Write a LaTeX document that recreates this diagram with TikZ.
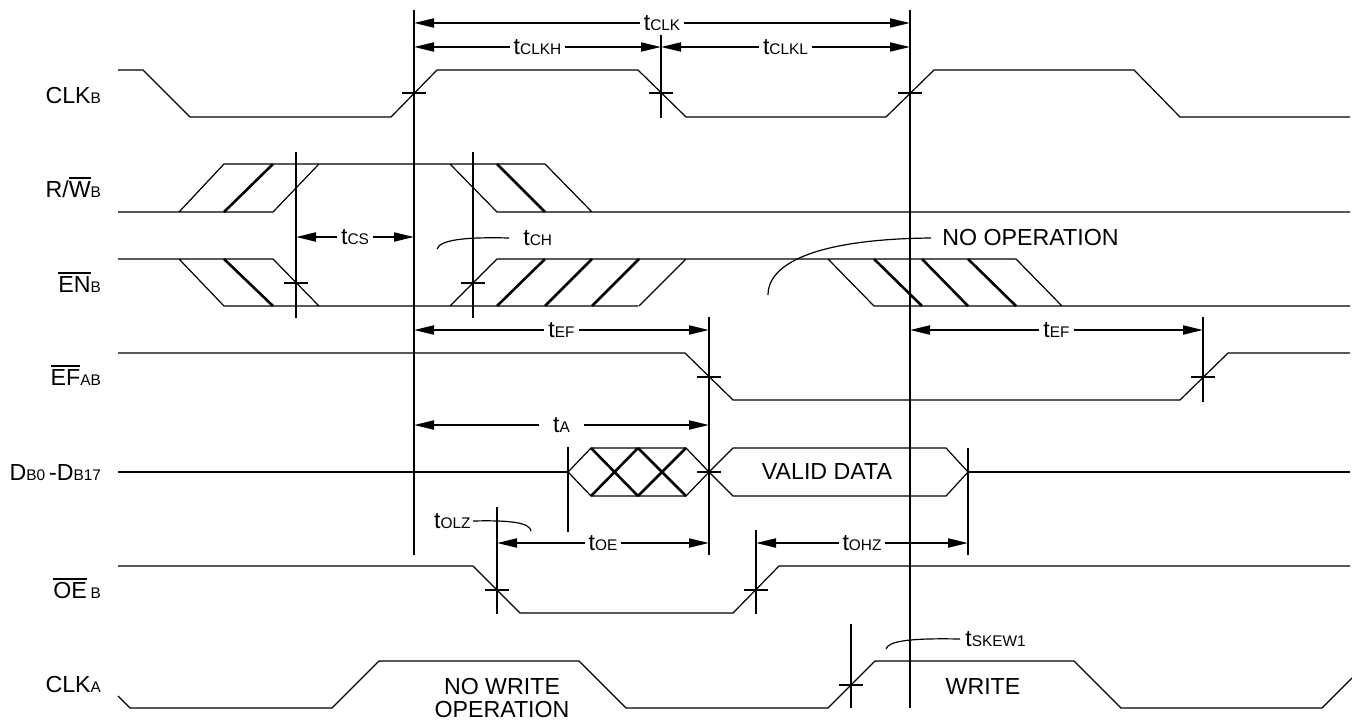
\documentclass[tikz,border=0pt]{standalone}
\usepackage{fontspec}
\setmainfont{Liberation Sans}
\usetikzlibrary{arrows.meta}
\newcommand{\lo}[1]{{\fontsize{7.7}{8}\selectfont #1}}
\newcommand{\ovl}[1]{\leavevmode\vbox{\hrule height 1pt\kern 1pt\hbox{#1}}}
\begin{document}
\begin{tikzpicture}[x=0.5pt,y=-0.5pt,>={Triangle[length=10pt,width=4.5pt]},line join=round,
	font=\fontsize{11.6}{11.5}\selectfont,
	sig/.style={line width=0.6pt},
	hatch/.style={line width=1.3pt},
	bus/.style={line width=1.2pt},
	vline/.style={line width=1pt},
	dim/.style={<->,line width=1pt},
	tlab/.style={fill=white,inner xsep=2pt,inner ysep=1pt}]
	\useasboundingbox (0,0) rectangle (1352,723);
	% signal names
	\node[anchor=base east] (clkb) at (108,103) {CLK\lo{B}};
	\node[anchor=base east] (rwb) at (108,197) {R/\ovl{W}\lo{B}};
	\node[anchor=base east] (enb) at (108,292) {\ovl{EN}\lo{B}};
	\node[anchor=base east] (efab) at (108,385) {\ovl{EF}\lo{AB}};
	\node[anchor=base east] (db) at (108,480) {D\lo{B0}\,-D\lo{B17}};
	\node[anchor=base east] (oeb) at (108,598) {\ovl{OE}\,\lo{B}};
	\node[anchor=base east] (clka) at (108,692) {CLK\lo{A}};
	% CLKB
	\draw[sig] (118,70)--(143,70)--(190,117)--(391,117)--(437,70)--(638,70)--(686,117)--(886,117)
		--(934,70)--(1134,70)--(1180,117)--(1350,117);
	% R/W
	\draw[sig] (118,212)--(273,212) (179,212)--(224,164)--(545,164) (273,212)--(319,164)
		(450,164)--(497,212)--(1350,212) (545,164)--(592,212);
	\draw[hatch] (224,212)--(273,164) (497,164)--(545,212);
	% EN
	\draw[sig] (118,259)--(273,259) (179,259)--(224,306)--(638,306) (273,259)--(319,306)
		(450,306)--(497,259)--(1016,259) (639,306)--(686,259)
		(828,259)--(874,306)--(1350,306) (1016,259)--(1062,306);
	\draw[hatch] (224,259)--(273,306) (497,306)--(545,259) (545,306)--(592,259) (592,306)--(639,259)
		(874,259)--(922,306) (922,259)--(968,306) (968,259)--(1016,306);
	% EF
	\draw[sig] (118,353)--(685,353)--(733,400)--(1180,400)--(1228,353)--(1350,353);
	% data bus
	\draw[bus] (118,472)--(568,472) (968,472)--(1350,472);
	\draw[sig] (568,472)--(591,448)--(686,448)--(709,472)--(686,496)--(591,496)--cycle;
	\draw[hatch] (591,448)--(638,496) (638,448)--(591,496) (638,448)--(686,496) (686,448)--(638,496);
	\draw[sig] (709,472)--(733,448)--(946,448)--(968,472)--(946,496)--(733,496)--cycle;
	\node (valid) at (827,472) {VALID DATA};
	% OE
	\draw[sig] (118,566)--(473,566)--(520,613)--(733,613)--(779,566)--(1350,566);
	% CLKA
	\draw[sig] (118,696)--(130,708)--(332,708)--(379,661)--(579,661)--(626,708)--(828,708)--(875,661)
		--(1074,661)--(1121,708)--(1322,708)--(1352,678);
	% reference lines
	\draw[vline] (414,10)--(414,555) (910,10)--(910,708) (661,35)--(661,118)
		(296,152)--(296,318) (473,152)--(473,318) (709,317)--(709,555) (1203,317)--(1203,402)
		(568,447)--(568,532) (968,448)--(968,555) (497,507)--(497,614) (756,530)--(756,614)
		(851,624)--(851,708);
	\foreach \x/\y in {414/93,661/93,910/93,296/283,473/283,709/377,1203/377,709/472,497/590,756/590,851/685}
		\draw[vline] (\x-12,\y)--(\x+12,\y);
	% timing
	\draw[dim] (414,23)--(910,23) node[tlab,midway] (tclk) {t\lo{CLK}};
	\draw[dim] (414,47)--(661,47) node[tlab,midway] (tclkh) {t\lo{CLKH}};
	\draw[dim] (661,47)--(910,47) node[tlab,midway] (tclkl) {t\lo{CLKL}};
	\draw[dim] (296,237)--(414,237) node[tlab,midway] (tcs) {t\lo{CS}};
	\draw[dim] (414,330)--(709,330) node[tlab,midway] (tefa) {t\lo{EF}};
	\draw[dim] (910,330)--(1203,330) node[tlab,midway] (tefb) {t\lo{EF}};
	\draw[dim] (414,425)--(709,425) node[tlab,midway,inner xsep=7pt] (ta) {t\lo{A}};
	\draw[dim] (497,543)--(709,543) node[tlab,midway] (toe) {t\lo{OE}};
	\draw[dim] (756,543)--(968,543) node[tlab,midway] (tohz) {t\lo{OHZ}};
	% notes
	\node[anchor=west,inner xsep=7pt] (tch) at (509,238) {t\lo{CH}};
	\draw[sig] (tch.west) .. controls (470,237) and (440,239) .. (437,249);
	\node[anchor=west,inner xsep=5.5pt] (noop) at (931,238) {NO OPERATION};
	\draw[sig] (noop.west) .. controls (820,239) and (768,262) .. (768,295);
	\node[anchor=east,inner xsep=1pt] (tolz) at (473,521) {t\lo{OLZ}};
	\draw[sig] (tolz.east) .. controls (512,520) and (530,523) .. (531,531);
	\node[anchor=west,inner xsep=2.5pt] (tskew) at (960,639) {t\lo{SKEW1}};
	\draw[sig] (tskew.west) .. controls (910,638) and (888,641) .. (886,649);
	\node[align=center] (nowrite) at (502,698) {NO WRITE\\OPERATION};
	\node (write) at (983,687) {WRITE};
\end{tikzpicture}
\end{document}
